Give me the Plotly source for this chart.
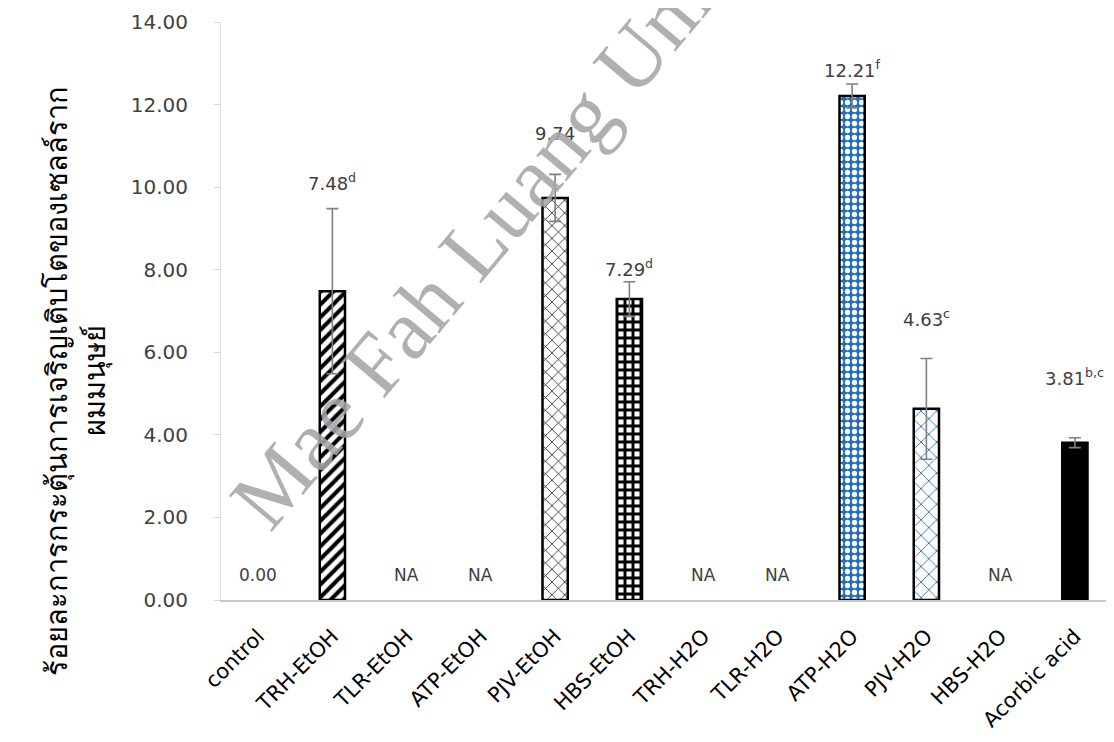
import plotly.graph_objects as go

categories = ["control", "TRH-EtOH", "TLR-EtOH", "ATP-EtOH", "PJV-EtOH", "HBS-EtOH",
              "TRH-H2O", "TLR-H2O", "ATP-H2O", "PJV-H2O", "HBS-H2O", "Acorbic acid"]
values = [0.0, 7.48, None, None, 9.74, 7.29, None, None, 12.21, 4.63, None, 3.81]
errors = [None, 2.0, None, None, 0.57, 0.42, None, None, 0.29, 1.22, None, 0.12]
value_labels = ["0.00", "7.48<sup>d</sup>", "NA", "NA", "9.74", "7.29<sup>d</sup>",
                "NA", "NA", "12.21<sup>f</sup>", "4.63<sup>c</sup>", "NA", "3.81<sup>b,c</sup>"]
y_ticks = [0, 2, 4, 6, 8, 10, 12, 14]
y_title = "ร้อยละการกระตุ้นการเจริญเติบโตของเซลล์ราก<br>ผมมนุษย์"
watermark = "Mae Fah Luang University"

# styles (not data)
pat_shape = ["", "/", "", "", "x", "+", "", "", ".", "x", "", ""]
pat_fg = ["black", "black", "black", "black", "black", "black", "black", "black",
          "white", "#2e75b6", "black", "black"]
pat_bg = ["white", "white", "white", "white", "white", "white", "white", "white",
          "#1f6fbf", "white", "white", "black"]
pat_size = [8, 9, 8, 8, 9, 8, 8, 8, 7, 11, 8, 8]
pat_sol = [0.3, 0.45, 0.3, 0.3, 0.15, 0.6, 0.3, 0.3, 0.45, 0.16, 0.3, 0.3]
label_shift = [0, 27, 0, 0, 41, 14, 0, 0, 15, 40, 0, 61]

fig = go.Figure()
for i, c in enumerate(categories):
    v = values[i]
    e = errors[i]
    marker = dict(color=pat_bg[i],
                  line=dict(color="black", width=2.5 if v else 0))
    if pat_shape[i]:
        marker["pattern"] = dict(shape=pat_shape[i], fgcolor=pat_fg[i], bgcolor=pat_bg[i],
                                 size=pat_size[i], solidity=pat_sol[i], fillmode="replace")
    fig.add_trace(go.Bar(
        x=[c], y=[v], width=0.34, marker=marker,
        error_y=dict(type="data", array=[e], visible=e is not None, color="#808080",
                     thickness=1.6, width=6),
        hoverinfo="skip",
    ))

for i, (c, v, e, lab) in enumerate(zip(categories, values, errors, value_labels)):
    if v is None or v == 0:
        fig.add_annotation(x=c, y=0.6, text=lab, showarrow=False,
                           font=dict(family="DejaVu Sans", size=17, color="#404040"),
                           xanchor="center", yanchor="middle")
    else:
        fig.add_annotation(x=c, y=v + e, text=lab, showarrow=False,
                           font=dict(family="DejaVu Sans", size=18, color="#404040"),
                           xanchor="center", yanchor="middle", yshift=label_shift[i])

fig.add_annotation(xref="paper", yref="paper", x=-0.164, y=0.379, text=y_title,
                   textangle=-90, showarrow=False, xanchor="center", yanchor="middle",
                   font=dict(family="Noto Sans, DejaVu Sans", size=29, color="black"))

fig.add_annotation(xref="paper", yref="paper", x=0.365, y=0.762, text=watermark,
                   textangle=-50, showarrow=False, xanchor="center", yanchor="middle",
                   font=dict(family="Liberation Serif", size=86, color="rgba(165,165,170,0.88)"))

fig.update_layout(
    width=1106, height=734,
    margin=dict(l=213, r=2, t=14, b=142),
    paper_bgcolor="white", plot_bgcolor="white",
    showlegend=False, barmode="overlay",
    font=dict(family="DejaVu Sans", color="black"),
)
fig.update_xaxes(type="category", categoryorder="array", categoryarray=categories,
                 range=[-0.5, len(categories) - 0.5],
                 tickangle=-45, tickfont=dict(size=21, color="black"),
                 showline=True, linecolor="#c8c8c8", linewidth=1.5,
                 showgrid=False, ticks="", ticklabelstandoff=14)
fig.update_yaxes(range=[0, 14], tickvals=y_ticks, tickformat=".2f",
                 tickfont=dict(size=20, color="#404040"),
                 showgrid=False, showline=True, linecolor="#e0e0e0", linewidth=1,
                 ticks="outside", ticklen=6, tickcolor="#d9d9d9",
                 ticklabelstandoff=22, zeroline=False)

fig.write_html("out.html")
